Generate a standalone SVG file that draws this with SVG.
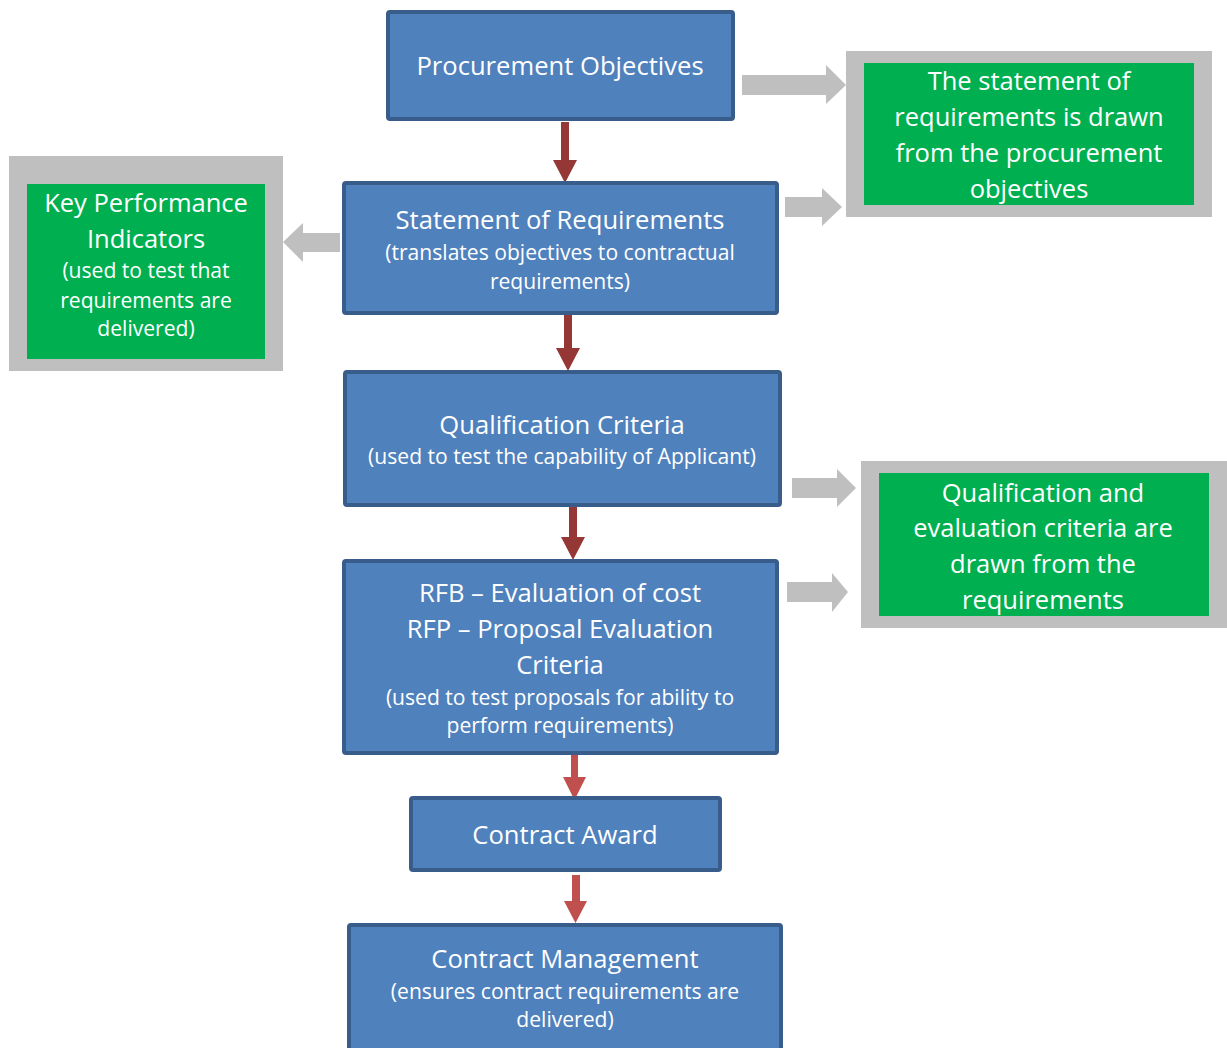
<svg xmlns="http://www.w3.org/2000/svg" width="1227" height="1048" viewBox="0 0 1227 1048">
<style>
.box{fill:#4F81BD;stroke:#385D8A;stroke-width:4}
.frame{fill:#BFBFBF}
.green{fill:#00B050}
text{font-family:"Open Sans",Lato,"Liberation Sans",sans-serif;fill:#FFFFFF;text-anchor:middle}
.t{font-size:25.6px}
.s{font-size:21.1px}
.g{font-size:25.5px}
.gray{fill:#BFBFBF}
.red1{fill:#953735}
.red2{fill:#C0504D}
</style>
<g id="connectors">
<polygon class="red1" points="561,122 569,122 569,160 577,160 565,183 553,160 561,160"/>
<polygon class="red1" points="564,313 572,313 572,348 580,348 568,371 556,348 564,348"/>
<polygon class="red1" points="569,503 577,503 577,537 585,537 573,560 561,537 569,537"/>
<polygon class="red2" points="571,752 578,752 578,777 586,777 574.5,800 563,777 571,777"/>
<polygon class="red2" points="572,875 580,875 580,901 587,901 575.5,923 564,901 572,901"/>
<polygon class="gray" points="742,75 826,75 826,65 846,85 826,104 826,95 742,95"/>
<polygon class="gray" points="785,197 822,197 822,188 842,207 822,226 822,217 785,217"/>
<polygon class="gray" points="340,233 303,233 303,223 283,242 303,262 303,252 340,252"/>
<polygon class="gray" points="792,478 837,478 837,469 856,488 837,507 837,498 792,498"/>
<polygon class="gray" points="787,582 832,582 832,573 848,592 832,612 832,602 787,602"/>
</g>
<g id="procurement-objectives">
<rect class="box" x="388" y="12" width="345" height="107" rx="2"/>
<text class="t" x="560" y="75">Procurement Objectives</text>
</g>
<g id="note-statement">
<rect class="frame" x="846" y="51" width="366" height="166"/>
<rect class="green" x="864" y="63" width="330" height="142"/>
<text class="g" x="1029" y="90">The statement of</text>
<text class="g" x="1029" y="126">requirements is drawn</text>
<text class="g" x="1029" y="162">from the procurement</text>
<text class="g" x="1029" y="198">objectives</text>
</g>
<g id="statement-of-requirements">
<rect class="box" x="344" y="183" width="433" height="130" rx="2"/>
<text class="t" x="560" y="229">Statement of Requirements</text>
<text class="s" x="560" y="260">(translates objectives to contractual</text>
<text class="s" x="560" y="289">requirements)</text>
</g>
<g id="kpi">
<rect class="frame" x="9" y="156" width="274" height="215"/>
<rect class="green" x="27" y="184" width="238" height="175"/>
<text class="g" x="146" y="212">Key Performance</text>
<text class="g" x="146" y="248">Indicators</text>
<text class="s" x="146" y="278">(used to test that</text>
<text class="s" x="146" y="308">requirements are</text>
<text class="s" x="146" y="336">delivered)</text>
</g>
<g id="qualification-criteria">
<rect class="box" x="345" y="372" width="435" height="133" rx="2"/>
<text class="t" x="562" y="434">Qualification Criteria</text>
<text class="s" x="562" y="464">(used to test the capability of Applicant)</text>
</g>
<g id="note-criteria">
<rect class="frame" x="861" y="461" width="366" height="167"/>
<rect class="green" x="879" y="473" width="330" height="143"/>
<text class="g" x="1043" y="502">Qualification and</text>
<text class="g" x="1043" y="537">evaluation criteria are</text>
<text class="g" x="1043" y="573">drawn from the</text>
<text class="g" x="1043" y="609">requirements</text>
</g>
<g id="evaluation-criteria">
<rect class="box" x="344" y="561" width="433" height="192" rx="2"/>
<text class="t" x="560" y="602">RFB – Evaluation of cost</text>
<text class="t" x="560" y="638">RFP – Proposal Evaluation</text>
<text class="t" x="560" y="674">Criteria</text>
<text class="s" x="560" y="705">(used to test proposals for ability to</text>
<text class="s" x="560" y="733">perform requirements)</text>
</g>
<g id="contract-award">
<rect class="box" x="411" y="798" width="309" height="72" rx="2"/>
<text class="t" x="565" y="844">Contract Award</text>
</g>
<g id="contract-management">
<rect class="box" x="349" y="925" width="432" height="130" rx="2"/>
<text class="t" x="565" y="968">Contract Management</text>
<text class="s" x="565" y="999">(ensures contract requirements are</text>
<text class="s" x="565" y="1027">delivered)</text>
</g>
</svg>
